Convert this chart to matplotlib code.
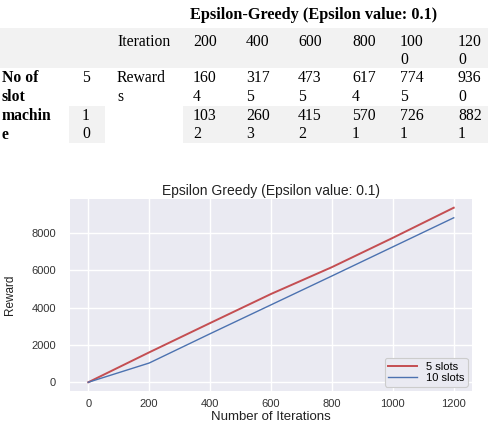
import matplotlib
matplotlib.use('Agg')
import matplotlib.pyplot as plt
from matplotlib.patches import Rectangle

# data from the table / chart
iterations = [0, 200, 400, 600, 800, 1000, 1200]
reward_5 = [0, 1604, 3175, 4735, 6174, 7745, 9360]
reward_10 = [0, 1032, 2603, 4152, 5701, 7261, 8821]
table_cols = ['200', '400', '600', '800', '1000', '1200']
labels = ['5 slots', '10 slots']

fig = plt.figure(figsize=(4.89, 4.22), dpi=100)
fig.patch.set_facecolor('white')

# page overlay in pixel coords (for the table part)
page = fig.add_axes([0, 0, 1, 1])
page.set_xlim(0, 489)
page.set_ylim(422, 0)
page.axis('off')

serif = 'Liberation Serif'
fs = 11.3
page.text(314, 19, 'Epsilon-Greedy (Epsilon value: 0.1)', fontsize=11.7, fontweight='bold',
          family=serif, ha='center', va='baseline')

gray = '#f2f2f2'
page.add_patch(Rectangle((0, 28), 489, 40, color=gray, lw=0))
page.add_patch(Rectangle((69, 106), 36, 37, color=gray, lw=0))
page.add_patch(Rectangle((183, 106), 306, 37, color=gray, lw=0))

col_x = [193, 246, 298, 352, 400, 458]
line_h = 18.7


def cell(x, y, s, bold=False):
    # narrow cells wrap after 3 chars
    parts = [s[i:i + 3] for i in range(0, len(s), 3)] if not bold else s.split('\n')
    for k, p in enumerate(parts):
        page.text(x, y + k * line_h, p, fontsize=fs, family=serif, ha='left', va='baseline',
                  fontweight='bold' if bold else 'normal')


page.text(117, 45.5, 'Iteration', fontsize=fs, family=serif, va='baseline')
for x, c in zip(col_x, table_cols):
    cell(x, 45.5, c)

cell(2, 82.5, 'No of\nslot\nmachin\ne', bold=True)
page.text(82, 82.5, '5', fontsize=fs, family=serif, va='baseline')
page.text(117, 82.5, 'Reward', fontsize=fs, family=serif, va='baseline')
page.text(117, 82.5 + line_h, 's', fontsize=fs, family=serif, va='baseline')
page.text(82, 119.5, '1', fontsize=fs, family=serif, va='baseline')
page.text(82, 119.5 + line_h, '0', fontsize=fs, family=serif, va='baseline')
for x, v in zip(col_x, reward_5[1:]):
    cell(x, 82.5, str(v))
for x, v in zip(col_x, reward_10[1:]):
    cell(x, 119.5, str(v))

# the chart
sans = 'Liberation Sans'
ax = fig.add_axes([70 / 489, 1 - 391 / 422, 402 / 489, 192 / 422])
ax.set_facecolor('#eaeaf2')
for sp in ax.spines.values():
    sp.set_visible(False)
ax.grid(True, color='white', lw=1)
ax.set_axisbelow(True)

ax.plot(iterations, reward_5, color='#c44e52', lw=1.4, label=labels[0])
ax.plot(iterations, reward_10, color='#4c72b0', lw=1.0, label=labels[1])

ax.set_xticks([0, 200, 400, 600, 800, 1000, 1200])
ax.set_yticks([0, 2000, 4000, 6000, 8000])
ax.tick_params(length=0, labelsize=8, colors='#333333')
ax.tick_params(axis='y', pad=10)
ax.tick_params(axis='x', pad=6)
for t in ax.get_xticklabels() + ax.get_yticklabels():
    t.set_family(sans)

ax.set_title('Epsilon Greedy (Epsilon value: 0.1)', fontsize=10, family=sans, pad=3, color='#222222')
ax.set_xlabel('Number of Iterations', fontsize=9.5, family=sans, labelpad=1, color='#222222')
ax.set_ylabel('Reward', fontsize=8.5, family=sans, color='#222222')
ax.yaxis.set_label_coords(-0.135, 0.5)

leg = ax.legend(loc='lower right', prop={'family': sans, 'size': 8}, facecolor='#eaeaf2',
                edgecolor='#cccccc', framealpha=1, handlelength=2.6, borderaxespad=0.4,
                labelspacing=0.15, borderpad=0.3)
leg.get_frame().set_linewidth(0.8)

fig.savefig('out.png', dpi=100)
